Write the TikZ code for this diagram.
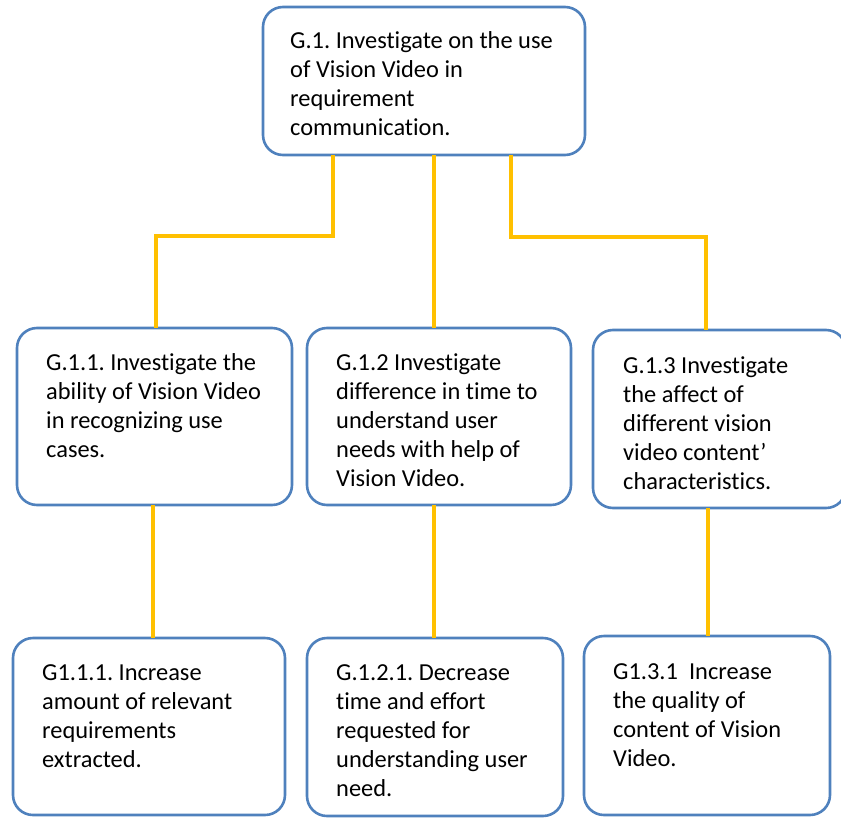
\documentclass[tikz,border=0pt]{standalone}
\usepackage{fontspec}
\setmainfont{Carlito}[Ligatures=NoCommon]
\definecolor{boxblue}{HTML}{4F81BD}
\definecolor{linkgold}{HTML}{FFC000}
\begin{document}
\frenchspacing
\begin{tikzpicture}[x=1pt,y=-1pt,
  goalbox/.style={draw=boxblue, line width=2.6pt, rounded corners=20pt, fill=white,
    inner sep=0pt, outer sep=0pt},
  goaltext/.style={anchor=north west, inner sep=0pt, align=left,
    font=\fontsize{24.4}{29}\selectfont},
  link/.style={draw=linkgold, line width=3.6pt}]
\useasboundingbox (0,0) rectangle (841,817);

% goal boxes
\node[goalbox, minimum width=322pt, minimum height=148pt] (g1)   at (424,81) {};
\node[goalbox, minimum width=275pt, minimum height=177pt] (g11)  at (154.5,416.5) {};
\node[goalbox, minimum width=264pt, minimum height=177pt] (g12)  at (439,416.5) {};
\node[goalbox, minimum width=253pt, minimum height=178pt] (g13)  at (719.5,419) {};
\node[goalbox, minimum width=272pt, minimum height=177pt] (g111) at (149,726.5) {};
\node[goalbox, minimum width=256pt, minimum height=178pt] (g121) at (435,727) {};
\node[goalbox, minimum width=246pt, minimum height=179pt] (g131) at (707,725.5) {};

% elbow points and vertical tracks of the connectors
\coordinate (e1) at (156,236);
\coordinate (e3) at (706,237);
\coordinate (xa) at (333,0);
\coordinate (xb) at (434,0);
\coordinate (xc) at (511,0);
\coordinate (xl) at (153,0);
\coordinate (xr) at (708,0);

% connectors from box edge to box edge
\draw[link] (g1.south -| xa) |- (e1) -- (e1 |- g11.north);
\draw[link] (g1.south -| xb) -- (g12.north -| xb);
\draw[link] (g1.south -| xc) |- (e3) -- (e3 |- g13.north);
\draw[link] (g11.south -| xl) -- (g111.north -| xl);
\draw[link] (g12.south -| xb) -- (g121.north -| xb);
\draw[link] (g13.south -| xr) -- (g131.north -| xr);

% goal texts
\node[goaltext] (t1) at (290,27.7) {\strut G.1. Investigate on the use\\of Vision Video in\\requirement\\communication.};
\node[goaltext] (t11) at (46,349.7) {\strut G.1.1. Investigate the\\ability of Vision Video\\in recognizing use\\cases.};
\node[goaltext] (t12) at (336,349.7) {\strut G.1.2 Investigate\\difference in time to\\understand user\\needs with help of\\Vision Video.};
\node[goaltext] (t13) at (623,352.7) {\strut G.1.3 Investigate\\the affect of\\different vision\\video content’\\characteristics.};
\node[goaltext] (t111) at (42,659.7) {\strut G1.1.1. Increase\\amount of relevant\\requirements\\extracted.};
\node[goaltext] (t121) at (336,659.7) {\strut G.1.2.1. Decrease\\time and effort\\requested for\\understanding user\\need.};
\node[goaltext] (t131) at (613,658.7) {\strut G1.3.1\ \ Increase\\the quality of\\content of Vision\\Video.};
\end{tikzpicture}
\end{document}
